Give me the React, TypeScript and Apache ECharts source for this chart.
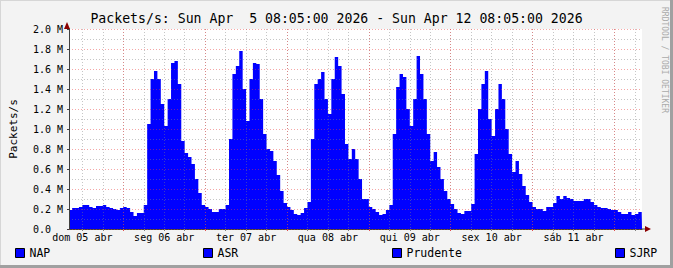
import React, { useEffect, useRef } from "react";
import * as echarts from "echarts";

// ---- texts ----
const chartTitle = "Packets/s: Sun Apr  5 08:05:00 2026 - Sun Apr 12 08:05:00 2026";
const yAxisTitle = "Packets/s";
const watermark = "RRDTOOL / TOBI OETIKER";
const legendNames = ["NAP", "ASR", "Prudente", "SJRP"];

// ---- time axis (hours since Sun 05 Apr 00:00) ----
const startHour = 8 + 5 / 60; // Sun Apr 5 08:05
const endHour = startHour + 168; // Sun Apr 12 08:05
const firstSampleHour = 8;
const dayLabels = ["dom 05 abr", "seg 06 abr", "ter 07 abr", "qua 08 abr", "qui 09 abr", "sex 10 abr", "sáb 11 abr"];
const dayLabelHours = [12, 36, 60, 84, 108, 132, 156];
const minorGridHours = [12, 18, 24, 30, 36, 42, 48, 54, 60, 66, 72, 78, 84, 90, 96, 102, 108, 114, 120, 126, 132, 138, 144, 150, 156, 162, 168, 174];
const majorGridHours = [24, 48, 72, 96, 120, 144, 168];

// ---- y axis (millions of packets/s) ----
const yMin = 0;
const yMax = 2.0;
const yStep = 0.2;

// ---- hourly values, M packets/s (aggregate of the stacked areas) ----
const sun05 = [0.19, 0.21, 0.21, 0.22, 0.24, 0.24, 0.22, 0.21, 0.23, 0.23, 0.24, 0.22, 0.21, 0.2, 0.19, 0.21];
const mon06 = [0.22, 0.21, 0.17, 0.13, 0.16, 0.16, 0.24, 1.05, 1.5, 1.58, 1.5, 1.25, 1.03, 1.3, 1.66, 1.68, 1.45, 0.88, 0.76, 0.72, 0.65, 0.5, 0.36, 0.24];
const tue07 = [0.22, 0.2, 0.17, 0.17, 0.2, 0.2, 0.24, 0.9, 1.55, 1.63, 1.78, 1.4, 1.08, 1.5, 1.66, 1.65, 1.3, 0.95, 0.8, 0.78, 0.68, 0.54, 0.38, 0.26];
const wed08 = [0.22, 0.19, 0.15, 0.14, 0.16, 0.21, 0.27, 0.9, 1.45, 1.5, 1.57, 1.3, 1.15, 1.5, 1.72, 1.63, 1.35, 0.85, 0.7, 0.8, 0.7, 0.5, 0.3, 0.3];
const thu09 = [0.22, 0.2, 0.17, 0.14, 0.15, 0.19, 0.24, 0.95, 1.42, 1.55, 1.52, 1.2, 1.03, 1.3, 1.73, 1.55, 1.3, 0.95, 0.68, 0.77, 0.62, 0.5, 0.38, 0.3];
const fri10 = [0.25, 0.2, 0.16, 0.15, 0.18, 0.18, 0.25, 0.75, 1.2, 1.45, 1.58, 1.1, 0.93, 1.2, 1.45, 1.3, 1.0, 0.75, 0.57, 0.68, 0.55, 0.43, 0.34, 0.27];
const sat11 = [0.22, 0.2, 0.2, 0.18, 0.22, 0.22, 0.26, 0.33, 0.3, 0.33, 0.31, 0.3, 0.28, 0.28, 0.28, 0.3, 0.3, 0.27, 0.24, 0.22, 0.21, 0.21, 0.2, 0.19];
const sun12 = [0.19, 0.17, 0.15, 0.15, 0.17, 0.14, 0.15, 0.17, 0.16];

const MONO = "'DejaVu Sans Mono', monospace";

export default function App() {
  const ref = useRef<HTMLDivElement>(null);

  useEffect(() => {
    document.body.style.margin = "0";
    if (!ref.current) return;
    const chart = echarts.init(ref.current, undefined, { renderer: "svg" });

    const values = [...sun05, ...mon06, ...tue07, ...wed08, ...thu09, ...fri10, ...sat11, ...sun12];
    const points: [number, number][] = values.map((v, i) => [firstSampleHour + i, v]);
    points.push([endHour, values[values.length - 1]]);

    const legendLefts = [15, 203, 392, 615];

    const option: any = {
      animation: false,
      backgroundColor: "#f3f3f3",
      title: {
        text: chartTitle,
        left: "center",
        top: 10,
        padding: [2, 5, 2, 5],
        textStyle: { fontFamily: MONO, fontSize: 13.2, fontWeight: "normal", color: "#000" },
      },
      legend: legendNames.map((name, i) => ({
        data: [name],
        left: legendLefts[i],
        top: 247,
        padding: 0,
        icon: "rect",
        itemWidth: 9,
        itemHeight: 9,
        itemGap: 0,
        selectedMode: false,
        itemStyle: { color: "#0000ff", borderColor: "#000", borderWidth: 1 },
        textStyle: { fontFamily: MONO, fontSize: 11.5, color: "#000" },
      })),
      grid: {
        left: 67,
        top: 29,
        width: 575,
        height: 200,
        show: true,
        backgroundColor: "#ffffff",
        borderWidth: 0,
      },
      xAxis: [
        {
          type: "value",
          min: startHour,
          max: endHour,
          z: 3,
          axisLine: { show: true, lineStyle: { color: "#404040", width: 1 } },
          axisTick: { show: true, length: 2, customValues: minorGridHours, lineStyle: { color: "#808080" } },
          axisLabel: {
            customValues: dayLabelHours,
            formatter: (v: number) => dayLabels[dayLabelHours.indexOf(Math.round(v))] ?? "",
            fontFamily: MONO,
            fontSize: 10,
            color: "#000",
            margin: 3,
          },
          splitLine: { show: true, lineStyle: { color: "rgba(128,128,128,0.45)", type: [1, 2], width: 1 } },
        },
        {
          type: "value",
          min: startHour,
          max: endHour,
          position: "bottom",
          z: 4,
          axisLine: { show: false },
          axisTick: { show: true, length: 2, customValues: majorGridHours, lineStyle: { color: "#e05050" } },
          axisLabel: { show: false },
          splitLine: { show: true, lineStyle: { color: "rgba(230,60,60,0.45)", type: [1, 2], width: 1 } },
        },
      ],
      yAxis: {
        type: "value",
        min: yMin,
        max: yMax,
        interval: yStep,
        z: 4,
        name: yAxisTitle,
        nameLocation: "middle",
        nameGap: 50,
        nameTextStyle: { fontFamily: MONO, fontSize: 11, color: "#000" },
        axisLine: { show: true, lineStyle: { color: "#404040", width: 1 } },
        axisTick: { show: true, length: 2, lineStyle: { color: "#404040" } },
        axisLabel: {
          fontFamily: MONO,
          fontSize: 10,
          color: "#000",
          margin: 6,
          formatter: (v: number) => (v === 0 ? "{z|0.0}" : v.toFixed(1) + " M"),
          rich: { z: { fontFamily: MONO, fontSize: 10, color: "#000", padding: [0, 12, 0, 0] } },
        },
        splitLine: { show: true, lineStyle: { color: "rgba(230,60,60,0.45)", type: [1, 2], width: 1 } },
        minorTick: { show: false, splitNumber: 2 },
        minorSplitLine: { show: true, lineStyle: { color: "rgba(128,128,128,0.45)", type: [1, 2], width: 1 } },
      },
      series: [
        {
          name: "Packets/s",
          type: "line",
          step: "end",
          z: 1,
          showSymbol: false,
          symbol: "none",
          data: points,
          lineStyle: { width: 0, color: "#0000ff" },
          areaStyle: { color: "#0000ff", opacity: 1 },
          itemStyle: { color: "#0000ff" },
          silent: true,
        },
        ...legendNames.map((name) => ({
          name,
          type: "line",
          data: [],
          itemStyle: { color: "#0000ff" },
          lineStyle: { color: "#0000ff" },
        })),
      ],
      graphic: [
        // frame shading
        { type: "rect", shape: { x: 0, y: 0, width: 673, height: 1 }, style: { fill: "#d6d6d6" }, silent: true },
        { type: "rect", shape: { x: 0, y: 0, width: 1, height: 268 }, style: { fill: "#d6d6d6" }, silent: true },
        { type: "rect", shape: { x: 670, y: 0, width: 3, height: 268 }, style: { fill: "#a0a0a0" }, silent: true },
        { type: "rect", shape: { x: 0, y: 265, width: 673, height: 3 }, style: { fill: "#a0a0a0" }, silent: true },
        // axis arrows
        { type: "polygon", shape: { points: [[64, 29], [70, 29], [67, 22]] }, style: { fill: "#8b0000" }, z: 10, silent: true },
        { type: "line", shape: { x1: 642, y1: 229, x2: 645, y2: 229 }, style: { stroke: "#404040", lineWidth: 1 }, z: 10, silent: true },
        { type: "polygon", shape: { points: [[645, 226], [645, 232], [651, 229]] }, style: { fill: "#8b0000" }, z: 10, silent: true },
        // watermark
        {
          type: "text",
          x: 664,
          y: 60,
          rotation: -Math.PI / 2,
          style: {
            text: watermark,
            fontFamily: MONO,
            fontSize: 8,
            fill: "#aaaaaa",
            align: "center",
            verticalAlign: "middle",
          },
          silent: true,
        },
      ],
    };

    chart.setOption(option);
    return () => chart.dispose();
  }, []);

  return <div ref={ref} style={{ width: 673, height: 268 }} />;
}
